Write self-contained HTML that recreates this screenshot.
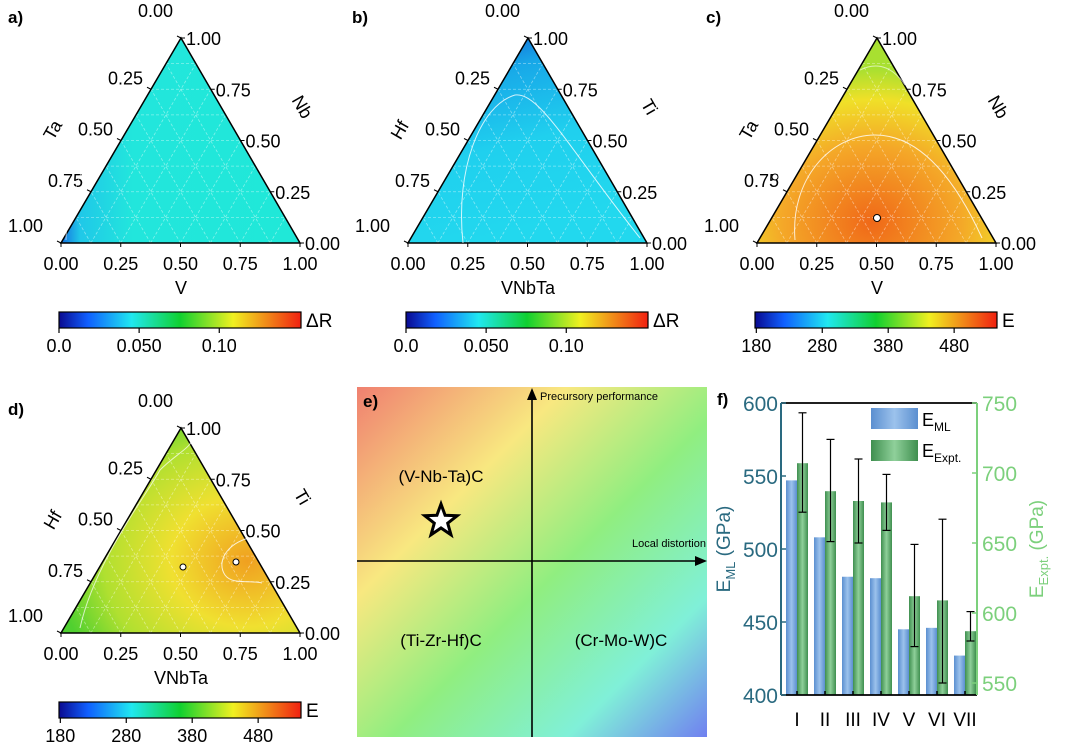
<!DOCTYPE html>
<html><head><meta charset="utf-8"><style>
body{margin:0;background:#fff;width:1065px;height:746px;overflow:hidden}
svg{font-family:"Liberation Sans",sans-serif}
</style></head><body>
<svg id="fig" width="1065" height="746" viewBox="0 0 1065 746">
<defs>
<linearGradient id="jet" x1="0" x2="1" y1="0" y2="0">
<stop offset="0" stop-color="#0a0a90"/><stop offset="0.12" stop-color="#1060ff"/><stop offset="0.3" stop-color="#20e8f0"/><stop offset="0.5" stop-color="#10d030"/><stop offset="0.72" stop-color="#f0f020"/><stop offset="1" stop-color="#f02010"/>
</linearGradient>
<linearGradient id="ga" x1="0" y1="0" x2="1" y2="0"><stop offset="0" stop-color="#1570e0"/><stop offset="0.08" stop-color="#20c8e8"/><stop offset="0.3" stop-color="#22e6dc"/><stop offset="1" stop-color="#20e8d8"/></linearGradient>
<linearGradient id="gb" x1="0" y1="0" x2="0.3" y2="1"><stop offset="0" stop-color="#1050d0"/><stop offset="0.25" stop-color="#18a8e8"/><stop offset="0.6" stop-color="#20d0ee"/><stop offset="1" stop-color="#22d8ee"/></linearGradient>
<radialGradient id="gc" cx="0.48" cy="0.9" r="0.75"><stop offset="0" stop-color="#f06818"/><stop offset="0.5" stop-color="#f4a828"/><stop offset="0.8" stop-color="#f0e028"/><stop offset="1" stop-color="#a8e030"/></radialGradient>
<radialGradient id="gd" cx="0.78" cy="0.65" r="0.8"><stop offset="0" stop-color="#f0a020"/><stop offset="0.4" stop-color="#f0e030"/><stop offset="0.75" stop-color="#b0e030"/><stop offset="1" stop-color="#50d030"/></radialGradient>
<linearGradient id="ge" x1="0" y1="0" x2="1" y2="1"><stop offset="0" stop-color="#f08070"/><stop offset="0.3" stop-color="#f8e880"/><stop offset="0.55" stop-color="#90ee80"/><stop offset="0.8" stop-color="#80f0d8"/><stop offset="1" stop-color="#7080f0"/></linearGradient>
<linearGradient id="gblue" x1="0" x2="1"><stop offset="0" stop-color="#5b8fd0"/><stop offset="0.5" stop-color="#9cc2ec"/><stop offset="1" stop-color="#5b8fd0"/></linearGradient>
<linearGradient id="ggreen" x1="0" x2="1"><stop offset="0" stop-color="#3f8f4f"/><stop offset="0.5" stop-color="#8fd09a"/><stop offset="1" stop-color="#3f8f4f"/></linearGradient>
</defs>
<g id="panels"></g>
</svg>
<script>
// Panel f data
const categories=["I","II","III","IV","V","VI","VII"];
const eML=[547,508,481,480,445,446,427];
const eExpt=[707,687,680,679,612,609,587];
const errHigh=[743,724,710,699,649,667,601];
const errLow=[672,651,650,659,576,550,580];
const leftTicks=[400,450,500,550,600];
const rightTicks=[550,600,650,700,750];
const NS="http://www.w3.org/2000/svg";
const root=document.getElementById('panels');
function mk(tag,attrs,parent,text){const e=document.createElementNS(NS,tag);for(const k in attrs)e.setAttribute(k,attrs[k]);if(text!==undefined)e.textContent=text;(parent||root).appendChild(e);return e;}

function ternary(ox,oy,fill,labL,labR,labB,cbLabel,cbTicks,cbMin,cbMax,id){
  const g=mk('g',{});
  
  
  const A=[ox+120,oy],L=[ox,oy+205],R=[ox+239,oy+205];
  const pts=A.join(',')+' '+L.join(',')+' '+R.join(',');
  const tri=mk('polygon',{points:pts,fill:'url(#'+fill+')'},g);
  
  
  const lerp=(p,q,t)=>[p[0]+(q[0]-p[0])*t,p[1]+(q[1]-p[1])*t];
  const gl=(a,b)=>mk('line',{x1:a[0],y1:a[1],x2:b[0],y2:b[1],stroke:'#fff','stroke-opacity':0.45,'stroke-dasharray':'3,2','stroke-width':0.8},g);
  for(let i=1;i<8;i++){const t=i/8;
    gl(lerp(L,A,t),lerp(R,A,t));
    gl(lerp(L,R,t),lerp(R,A,1-t));
    gl(lerp(L,R,t),lerp(L,A,t));}
  g.appendChild(document.createComment('edge'));
  mk('polygon',{points:pts,fill:'none',stroke:'#000','stroke-width':1.5},g);
  const vals=['0.00','0.25','0.50','0.75','1.00'];
  for(let i=0;i<5;i++){const t=i/4;
    let p=lerp(L,R,t);mk('line',{x1:p[0],y1:p[1],x2:p[0],y2:p[1]+4,stroke:'#000'},g);
    mk('text',{x:p[0],y:oy+232,'font-size':18,'text-anchor':'middle'},g,vals[i]);
    p=lerp(A,L,t);mk('line',{x1:p[0],y1:p[1],x2:p[0]-4,y2:p[1]-2,stroke:'#000'},g);
    mk('text',{x:p[0]-8-(i==4?10:0),y:p[1]-5+(i==0?-16:0)+(i==4?-6:0),'font-size':18,'text-anchor':'end'},g,vals[i]);
    p=lerp(R,A,t);mk('line',{x1:p[0],y1:p[1],x2:p[0]+4,y2:p[1],stroke:'#000'},g);
    mk('text',{x:p[0]+5,y:p[1]+7,'font-size':18},g,vals[i]);}
  mk('text',{x:ox+120,y:oy+256,'font-size':18,'text-anchor':'middle'},g,labB);
  mk('text',{x:0,y:0,'font-size':18,'text-anchor':'middle',transform:`translate(${ox-3},${oy+95}) rotate(-60)`},g,labL);
  mk('text',{x:0,y:0,'font-size':18,'text-anchor':'middle',transform:`translate(${ox+236},${oy+72}) rotate(60)`},g,labR);
  const cy=oy+274, cx0=ox-2, cx1=ox+240;
  const bar=mk('rect',{x:cx0,y:cy,width:cx1-cx0,height:16,fill:'url(#jet)',stroke:'#000','stroke-width':1.2},g);
  
  
  mk('text',{x:cx1+5,y:cy+15,'font-size':19},g,cbLabel);
  cbTicks.forEach(v=>{const x=cx0+(v-cbMin)/(cbMax-cbMin)*(cx1-cx0);
    mk('line',{x1:x,y1:cy+16,x2:x,y2:cy+21,stroke:'#000','stroke-width':1.2},g);
    mk('text',{x:x,y:cy+40,'font-size':18,'text-anchor':'middle'},g,String(v).replace(/^0$/,'0.0').replace(/^0\.05$/,'0.050').replace(/^0\.1$/,'0.10'));});
  return g;
}
function panelLabel(x,y,t){const e=mk('text',{x:x,y:y,'font-size':17,'font-weight':'bold'},root,t);}

ternary(61,38,'ga','Ta','Nb','V','ΔR',[0,0.05,0.1],0,0.151,'a');
const gb=ternary(408,38,'gb','Hf','Ti','VNbTa','ΔR',[0,0.05,0.1],0,0.151,'b');
const gc=ternary(757,38,'gc','Ta','Nb','V','E',[180,280,380,480],178,545,'c');
const gd=ternary(61,428,'gd','Hf','Ti','VNbTa','E',[180,280,380,480],178,545,'d');
// contours
mk('path',{d:'M66 240 C66 200,95 130,125 85',fill:'none',stroke:'#fff','stroke-opacity':0.6},root);
mk('path',{d:'M463 243 C455 170,480 105,515 95 C540 92,570 150,640 238',fill:'none',stroke:'#fff','stroke-opacity':0.8},gb);
mk('path',{d:'M795 240 C790 180,830 135,875 135 C925 135,960 190,982 238',fill:'none',stroke:'#fff','stroke-opacity':0.8},gc);
mk('path',{d:'M860 70 C880 60,895 70,905 85',fill:'none',stroke:'#fff','stroke-opacity':0.6},gc);
mk('circle',{cx:775,cy:177,r:3,fill:'#fff',stroke:'#000'},gc);
mk('circle',{cx:877,cy:218,r:3.5,fill:'#fff',stroke:'#000'},gc);
mk('path',{d:'M80 628 C95 560,150 490,160 470 C175 455,190 448,192 440',fill:'none',stroke:'#fff','stroke-opacity':0.7},gd);
mk('path',{d:'M255 537 C230 540,215 560,225 575 C232 585,250 580,262 583',fill:'none',stroke:'#fff','stroke-opacity':0.8},gd);
mk('circle',{cx:183,cy:567,r:3,fill:'#fff',stroke:'#000'},gd);
mk('circle',{cx:236,cy:562,r:3,fill:'#fff',stroke:'#000'},gd);
panelLabel(8,23,'a)');panelLabel(352,23,'b)');panelLabel(706,23,'c)');panelLabel(8,415,'d)');panelLabel(717,405,'f)');

// panel e
const ge=mk('g',{});
mk('rect',{x:357,y:387,width:350,height:350,fill:'url(#ge)'},ge);
mk('text',{x:363,y:407,'font-size':17,'font-weight':'bold'},ge,'e)');
mk('line',{x1:532,y1:737,x2:532,y2:398,stroke:'#000','stroke-width':1.6},ge);
mk('polygon',{points:'532,388 527,400 537,400',fill:'#000'},ge);
mk('line',{x1:357,y1:561,x2:698,y2:561,stroke:'#000','stroke-width':1.6},ge);
mk('polygon',{points:'707,561 695,556 695,566',fill:'#000'},ge);
mk('text',{x:540,y:400,'font-size':11},ge,'Precursory performance');
mk('text',{x:706,y:547,'font-size':11,'text-anchor':'end'},ge,'Local distortion');
mk('text',{x:441,y:482,'font-size':17,'text-anchor':'middle'},ge,'(V-Nb-Ta)C');
mk('text',{x:441,y:646,'font-size':17,'text-anchor':'middle'},ge,'(Ti-Zr-Hf)C');
mk('text',{x:621,y:646,'font-size':17,'text-anchor':'middle'},ge,'(Cr-Mo-W)C');
(function(){let p=[];for(let i=0;i<10;i++){const r=i%2?7:17,a=-Math.PI/2+i*Math.PI/5;p.push((441+r*Math.cos(a)).toFixed(1)+','+(521+r*Math.sin(a)).toFixed(1));}
const s=mk('polygon',{points:p.join(' '),fill:'#fff',stroke:'#000','stroke-width':3},ge);})();

// panel f
const gf=mk('g',{});
const X0=781,X1=977,YT=403,YB=695;
const yL=v=>YB-(v-400)/200*(YB-YT);
const yR=v=>YT+(750-v)*1.4;
const xC=i=>797+i*(965-797)/6;
categories.forEach((c,i)=>{
  const xc=xC(i);
  const b=mk('rect',{x:xc-11,y:yL(eML[i]),width:11,height:YB-yL(eML[i]),fill:'url(#gblue)'},gf);
  
  const gr=mk('rect',{x:xc,y:yR(eExpt[i]),width:11,height:YB-yR(eExpt[i]),fill:'url(#ggreen)'},gf);
  
  const ex=xc+5.5;
  mk('line',{x1:ex,y1:yR(errHigh[i]),x2:ex,y2:yR(errLow[i]),stroke:'#000','stroke-width':1.2},gf);
  mk('line',{x1:ex-4,y1:yR(errHigh[i]),x2:ex+4,y2:yR(errHigh[i]),stroke:'#000','stroke-width':1.2},gf);
  mk('line',{x1:ex-4,y1:yR(errLow[i]),x2:ex+4,y2:yR(errLow[i]),stroke:'#000','stroke-width':1.2},gf);
  mk('text',{x:xc,y:726,'font-size':19,'text-anchor':'middle'},gf,c);
  mk('line',{x1:xc,y1:YB,x2:xc,y2:YB-4,stroke:'#000','stroke-width':1.5},gf);
});
mk('line',{x1:X0,y1:YT,x2:X1,y2:YT,stroke:'#000','stroke-width':1.8},gf);
mk('line',{x1:X0,y1:YB,x2:X1,y2:YB,stroke:'#000','stroke-width':1.8},gf);
mk('line',{x1:X0,y1:YT,x2:X0,y2:YB,stroke:'#2a6a80','stroke-width':2},gf);
mk('line',{x1:X1,y1:YT,x2:X1,y2:YB,stroke:'#7cd07c','stroke-width':2},gf);
leftTicks.forEach(v=>{mk('line',{x1:X0,y1:yL(v),x2:X0+5,y2:yL(v),stroke:'#2a6a80','stroke-width':1.5},gf);
  mk('text',{x:X0-3,y:yL(v)+8,'font-size':21,'text-anchor':'end',fill:'#2a6a80'},gf,v);});
rightTicks.forEach(v=>{mk('line',{x1:X1,y1:yR(v),x2:X1-5,y2:yR(v),stroke:'#7cd07c','stroke-width':1.5},gf);
  mk('text',{x:X1+5,y:yR(v)+8,'font-size':21,fill:'#7cd07c'},gf,v);});
const ylab=mk('text',{transform:'translate(730,549) rotate(-90)','font-size':19,'text-anchor':'middle',fill:'#2a6a80'},gf);
ylab.innerHTML='E<tspan font-size="13" dy="5">ML</tspan><tspan dy="-5"> (GPa)</tspan>';

const yrl=mk('text',{transform:'translate(1043,549) rotate(-90)','font-size':19,'text-anchor':'middle',fill:'#7cd07c'},gf);
yrl.innerHTML='E<tspan font-size="13" dy="5">Expt.</tspan><tspan dy="-5"> (GPa)</tspan>';

const l1=mk('rect',{x:871,y:408,width:47,height:21,fill:'url(#gblue)'},gf);
const l2=mk('rect',{x:871,y:440,width:47,height:21,fill:'url(#ggreen)'},gf);
mk('text',{x:922,y:426,'font-size':18},gf).innerHTML='E<tspan font-size="12" dy="5">ML</tspan>';
mk('text',{x:922,y:457,'font-size':18},gf).innerHTML='E<tspan font-size="12" dy="5">Expt.</tspan>';
</script>
</body></html>
